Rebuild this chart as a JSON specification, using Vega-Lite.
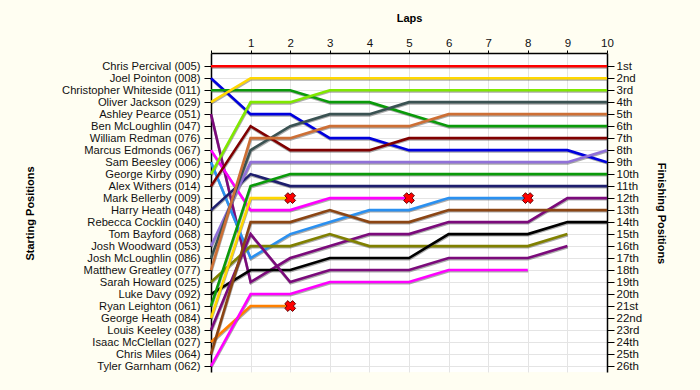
{
"$schema": "https://vega.github.io/schema/vega-lite/v6.json",
"width": 396, "height": 319,
"autosize": "none",
"padding": {"left": 211, "top": 53, "right": 93, "bottom": 18},
"background": "#FFFEF2",
"config": {"view": {"fill": "white", "stroke": null}, "font": "Liberation Sans"},
"datasets": {
"laps": [
{"d":"Chris Percival (005)","l":0,"p":1},{"d":"Chris Percival (005)","l":1,"p":1},{"d":"Chris Percival (005)","l":2,"p":1},{"d":"Chris Percival (005)","l":3,"p":1},{"d":"Chris Percival (005)","l":4,"p":1},{"d":"Chris Percival (005)","l":5,"p":1},{"d":"Chris Percival (005)","l":6,"p":1},{"d":"Chris Percival (005)","l":7,"p":1},{"d":"Chris Percival (005)","l":8,"p":1},{"d":"Chris Percival (005)","l":9,"p":1},{"d":"Chris Percival (005)","l":10,"p":1},
{"d":"Joel Pointon (008)","l":0,"p":2},{"d":"Joel Pointon (008)","l":1,"p":5},{"d":"Joel Pointon (008)","l":2,"p":5},{"d":"Joel Pointon (008)","l":3,"p":7},{"d":"Joel Pointon (008)","l":4,"p":7},{"d":"Joel Pointon (008)","l":5,"p":8},{"d":"Joel Pointon (008)","l":6,"p":8},{"d":"Joel Pointon (008)","l":7,"p":8},{"d":"Joel Pointon (008)","l":8,"p":8},{"d":"Joel Pointon (008)","l":9,"p":8},{"d":"Joel Pointon (008)","l":10,"p":9},
{"d":"Christopher Whiteside (011)","l":0,"p":3},{"d":"Christopher Whiteside (011)","l":1,"p":3},{"d":"Christopher Whiteside (011)","l":2,"p":3},{"d":"Christopher Whiteside (011)","l":3,"p":4},{"d":"Christopher Whiteside (011)","l":4,"p":4},{"d":"Christopher Whiteside (011)","l":5,"p":5},{"d":"Christopher Whiteside (011)","l":6,"p":6},{"d":"Christopher Whiteside (011)","l":7,"p":6},{"d":"Christopher Whiteside (011)","l":8,"p":6},{"d":"Christopher Whiteside (011)","l":9,"p":6},{"d":"Christopher Whiteside (011)","l":10,"p":6},
{"d":"Oliver Jackson (029)","l":0,"p":4},{"d":"Oliver Jackson (029)","l":1,"p":2},{"d":"Oliver Jackson (029)","l":2,"p":2},{"d":"Oliver Jackson (029)","l":3,"p":2},{"d":"Oliver Jackson (029)","l":4,"p":2},{"d":"Oliver Jackson (029)","l":5,"p":2},{"d":"Oliver Jackson (029)","l":6,"p":2},{"d":"Oliver Jackson (029)","l":7,"p":2},{"d":"Oliver Jackson (029)","l":8,"p":2},{"d":"Oliver Jackson (029)","l":9,"p":2},{"d":"Oliver Jackson (029)","l":10,"p":2},
{"d":"Ashley Pearce (051)","l":0,"p":5},{"d":"Ashley Pearce (051)","l":1,"p":19},{"d":"Ashley Pearce (051)","l":2,"p":17},{"d":"Ashley Pearce (051)","l":3,"p":16},{"d":"Ashley Pearce (051)","l":4,"p":15},{"d":"Ashley Pearce (051)","l":5,"p":15},{"d":"Ashley Pearce (051)","l":6,"p":14},{"d":"Ashley Pearce (051)","l":7,"p":14},{"d":"Ashley Pearce (051)","l":8,"p":14},{"d":"Ashley Pearce (051)","l":9,"p":12},{"d":"Ashley Pearce (051)","l":10,"p":12},
{"d":"Marcus Edmonds (067)","l":0,"p":8},{"d":"Marcus Edmonds (067)","l":1,"p":13},{"d":"Marcus Edmonds (067)","l":2,"p":13},{"d":"Marcus Edmonds (067)","l":3,"p":12},{"d":"Marcus Edmonds (067)","l":4,"p":12},{"d":"Marcus Edmonds (067)","l":5,"p":12},
{"d":"Sam Beesley (006)","l":0,"p":9},{"d":"Sam Beesley (006)","l":1,"p":17},{"d":"Sam Beesley (006)","l":2,"p":15},{"d":"Sam Beesley (006)","l":3,"p":14},{"d":"Sam Beesley (006)","l":4,"p":13},{"d":"Sam Beesley (006)","l":5,"p":13},{"d":"Sam Beesley (006)","l":6,"p":12},{"d":"Sam Beesley (006)","l":7,"p":12},{"d":"Sam Beesley (006)","l":8,"p":12},
{"d":"George Kirby (090)","l":0,"p":10},{"d":"George Kirby (090)","l":1,"p":4},{"d":"George Kirby (090)","l":2,"p":4},{"d":"George Kirby (090)","l":3,"p":3},{"d":"George Kirby (090)","l":4,"p":3},{"d":"George Kirby (090)","l":5,"p":3},{"d":"George Kirby (090)","l":6,"p":3},{"d":"George Kirby (090)","l":7,"p":3},{"d":"George Kirby (090)","l":8,"p":3},{"d":"George Kirby (090)","l":9,"p":3},{"d":"George Kirby (090)","l":10,"p":3},
{"d":"Alex Withers (014)","l":0,"p":11},{"d":"Alex Withers (014)","l":1,"p":6},{"d":"Alex Withers (014)","l":2,"p":8},{"d":"Alex Withers (014)","l":3,"p":8},{"d":"Alex Withers (014)","l":4,"p":8},{"d":"Alex Withers (014)","l":5,"p":7},{"d":"Alex Withers (014)","l":6,"p":7},{"d":"Alex Withers (014)","l":7,"p":7},{"d":"Alex Withers (014)","l":8,"p":7},{"d":"Alex Withers (014)","l":9,"p":7},{"d":"Alex Withers (014)","l":10,"p":7},
{"d":"Harry Heath (048)","l":0,"p":13},{"d":"Harry Heath (048)","l":1,"p":10},{"d":"Harry Heath (048)","l":2,"p":11},{"d":"Harry Heath (048)","l":3,"p":11},{"d":"Harry Heath (048)","l":4,"p":11},{"d":"Harry Heath (048)","l":5,"p":11},{"d":"Harry Heath (048)","l":6,"p":11},{"d":"Harry Heath (048)","l":7,"p":11},{"d":"Harry Heath (048)","l":8,"p":11},{"d":"Harry Heath (048)","l":9,"p":11},{"d":"Harry Heath (048)","l":10,"p":11},
{"d":"Josh Woodward (053)","l":0,"p":16},{"d":"Josh Woodward (053)","l":1,"p":9},{"d":"Josh Woodward (053)","l":2,"p":9},{"d":"Josh Woodward (053)","l":3,"p":9},{"d":"Josh Woodward (053)","l":4,"p":9},{"d":"Josh Woodward (053)","l":5,"p":9},{"d":"Josh Woodward (053)","l":6,"p":9},{"d":"Josh Woodward (053)","l":7,"p":9},{"d":"Josh Woodward (053)","l":8,"p":9},{"d":"Josh Woodward (053)","l":9,"p":9},{"d":"Josh Woodward (053)","l":10,"p":8},
{"d":"Josh McLoughlin (086)","l":0,"p":17},{"d":"Josh McLoughlin (086)","l":1,"p":8},{"d":"Josh McLoughlin (086)","l":2,"p":6},{"d":"Josh McLoughlin (086)","l":3,"p":5},{"d":"Josh McLoughlin (086)","l":4,"p":5},{"d":"Josh McLoughlin (086)","l":5,"p":4},{"d":"Josh McLoughlin (086)","l":6,"p":4},{"d":"Josh McLoughlin (086)","l":7,"p":4},{"d":"Josh McLoughlin (086)","l":8,"p":4},{"d":"Josh McLoughlin (086)","l":9,"p":4},{"d":"Josh McLoughlin (086)","l":10,"p":4},
{"d":"Matthew Greatley (077)","l":0,"p":18},{"d":"Matthew Greatley (077)","l":1,"p":7},{"d":"Matthew Greatley (077)","l":2,"p":7},{"d":"Matthew Greatley (077)","l":3,"p":6},{"d":"Matthew Greatley (077)","l":4,"p":6},{"d":"Matthew Greatley (077)","l":5,"p":6},{"d":"Matthew Greatley (077)","l":6,"p":5},{"d":"Matthew Greatley (077)","l":7,"p":5},{"d":"Matthew Greatley (077)","l":8,"p":5},{"d":"Matthew Greatley (077)","l":9,"p":5},{"d":"Matthew Greatley (077)","l":10,"p":5},
{"d":"Sarah Howard (025)","l":0,"p":19},{"d":"Sarah Howard (025)","l":1,"p":16},{"d":"Sarah Howard (025)","l":2,"p":16},{"d":"Sarah Howard (025)","l":3,"p":15},{"d":"Sarah Howard (025)","l":4,"p":16},{"d":"Sarah Howard (025)","l":5,"p":16},{"d":"Sarah Howard (025)","l":6,"p":16},{"d":"Sarah Howard (025)","l":7,"p":16},{"d":"Sarah Howard (025)","l":8,"p":16},{"d":"Sarah Howard (025)","l":9,"p":15},
{"d":"Luke Davy (092)","l":0,"p":20},{"d":"Luke Davy (092)","l":1,"p":18},{"d":"Luke Davy (092)","l":2,"p":18},{"d":"Luke Davy (092)","l":3,"p":17},{"d":"Luke Davy (092)","l":4,"p":17},{"d":"Luke Davy (092)","l":5,"p":17},{"d":"Luke Davy (092)","l":6,"p":15},{"d":"Luke Davy (092)","l":7,"p":15},{"d":"Luke Davy (092)","l":8,"p":15},{"d":"Luke Davy (092)","l":9,"p":14},{"d":"Luke Davy (092)","l":10,"p":14},
{"d":"Ryan Leighton (061)","l":0,"p":21},{"d":"Ryan Leighton (061)","l":1,"p":11},{"d":"Ryan Leighton (061)","l":2,"p":10},{"d":"Ryan Leighton (061)","l":3,"p":10},{"d":"Ryan Leighton (061)","l":4,"p":10},{"d":"Ryan Leighton (061)","l":5,"p":10},{"d":"Ryan Leighton (061)","l":6,"p":10},{"d":"Ryan Leighton (061)","l":7,"p":10},{"d":"Ryan Leighton (061)","l":8,"p":10},{"d":"Ryan Leighton (061)","l":9,"p":10},{"d":"Ryan Leighton (061)","l":10,"p":10},
{"d":"George Heath (084)","l":0,"p":22},{"d":"George Heath (084)","l":1,"p":12},{"d":"George Heath (084)","l":2,"p":12},
{"d":"Louis Keeley (038)","l":0,"p":23},{"d":"Louis Keeley (038)","l":1,"p":15},{"d":"Louis Keeley (038)","l":2,"p":19},{"d":"Louis Keeley (038)","l":3,"p":18},{"d":"Louis Keeley (038)","l":4,"p":18},{"d":"Louis Keeley (038)","l":5,"p":18},{"d":"Louis Keeley (038)","l":6,"p":17},{"d":"Louis Keeley (038)","l":7,"p":17},{"d":"Louis Keeley (038)","l":8,"p":17},{"d":"Louis Keeley (038)","l":9,"p":16},
{"d":"Isaac McClellan (027)","l":0,"p":24},{"d":"Isaac McClellan (027)","l":1,"p":21},{"d":"Isaac McClellan (027)","l":2,"p":21},
{"d":"Chris Miles (064)","l":0,"p":25},{"d":"Chris Miles (064)","l":1,"p":14},{"d":"Chris Miles (064)","l":2,"p":14},{"d":"Chris Miles (064)","l":3,"p":13},{"d":"Chris Miles (064)","l":4,"p":14},{"d":"Chris Miles (064)","l":5,"p":14},{"d":"Chris Miles (064)","l":6,"p":13},{"d":"Chris Miles (064)","l":7,"p":13},{"d":"Chris Miles (064)","l":8,"p":13},{"d":"Chris Miles (064)","l":9,"p":13},{"d":"Chris Miles (064)","l":10,"p":13},
{"d":"Tyler Garnham (062)","l":0,"p":26},{"d":"Tyler Garnham (062)","l":1,"p":20},{"d":"Tyler Garnham (062)","l":2,"p":20},{"d":"Tyler Garnham (062)","l":3,"p":19},{"d":"Tyler Garnham (062)","l":4,"p":19},{"d":"Tyler Garnham (062)","l":5,"p":19},{"d":"Tyler Garnham (062)","l":6,"p":18},{"d":"Tyler Garnham (062)","l":7,"p":18},{"d":"Tyler Garnham (062)","l":8,"p":18}
],
"retired": [
{"d":"George Heath (084)","l":2,"p":12},
{"d":"Isaac McClellan (027)","l":2,"p":21},
{"d":"Marcus Edmonds (067)","l":5,"p":12},
{"d":"Sam Beesley (006)","l":8,"p":12}
]
},
"layer": [
{
"data": {"name": "laps"},
"mark": {"type": "line", "strokeWidth": 2.6, "color": "#444444", "opacity": 0.45, "yOffset": 1.2, "xOffset": 0.4},
"encoding": {
"x": {"field": "l", "type": "quantitative", "scale": {"domain": [0, 10], "nice": false, "zero": false}, "axis": null},
"y": {"field": "p", "type": "quantitative", "scale": {"domain": [-0.1, 26.5], "reverse": true, "nice": false, "zero": false}, "axis": null},
"detail": {"field": "d"},
"order": {"field": "l"}
}
},
{
"data": {"name": "laps"},
"mark": {"type": "line", "strokeWidth": 2.6},
"encoding": {
"x": {"field": "l", "type": "quantitative", "axis": {"orient": "top", "values": [0,1,2,3,4,5,6,7,8,9,10], "labelExpr": "datum.value == 0 ? '' : datum.label", "title": "Laps", "titleFontSize": 11, "titleFontWeight": "bold", "titleColor": "#000000", "titleY": -35, "titleBaseline": "middle", "labelFontSize": 11.5, "labelColor": "#111111", "labelPadding": 2, "tickSize": 3, "tickColor": "#000000", "domainColor": "#000000", "domainWidth": 1.5, "grid": true, "gridColor": "#E4E4E4", "labelFlush": false}},
"y": {"field": "p", "type": "quantitative", "axis": {"orient": "left", "values": [1,2,3,4,5,6,7,8,9,10,11,12,13,14,15,16,17,18,19,20,21,22,23,24,25,26], "labelExpr": "['', 'Chris Percival (005)', 'Joel Pointon (008)', 'Christopher Whiteside (011)', 'Oliver Jackson (029)', 'Ashley Pearce (051)', 'Ben McLoughlin (047)', 'William Redman (076)', 'Marcus Edmonds (067)', 'Sam Beesley (006)', 'George Kirby (090)', 'Alex Withers (014)', 'Mark Bellerby (009)', 'Harry Heath (048)', 'Rebecca Cocklin (040)', 'Tom Bayford (068)', 'Josh Woodward (053)', 'Josh McLoughlin (086)', 'Matthew Greatley (077)', 'Sarah Howard (025)', 'Luke Davy (092)', 'Ryan Leighton (061)', 'George Heath (084)', 'Louis Keeley (038)', 'Isaac McClellan (027)', 'Chris Miles (064)', 'Tyler Garnham (062)'][datum.value]", "labelFontSize": 11.2, "labelColor": "#111111", "labelPadding": 4, "tickSize": 7, "tickColor": "#000000", "domainColor": "#000000", "domainWidth": 1.5, "grid": true, "gridColor": "#E4E4E4", "labelFlush": false, "labelOverlap": false, "title": "Starting Positions", "titleFontSize": 11, "titleFontWeight": "bold", "titleColor": "#000000", "titleAngle": -90, "titleX": -181, "titleY": 160, "titleAlign": "center", "titleBaseline": "middle"}},
"color": {"field": "d", "type": "nominal", "legend": null, "scale": {
"domain": ["Chris Percival (005)", "Joel Pointon (008)", "Christopher Whiteside (011)", "Oliver Jackson (029)", "Ashley Pearce (051)", "Marcus Edmonds (067)", "Sam Beesley (006)", "George Kirby (090)", "Alex Withers (014)", "Harry Heath (048)", "Josh Woodward (053)", "Josh McLoughlin (086)", "Matthew Greatley (077)", "Sarah Howard (025)", "Luke Davy (092)", "Ryan Leighton (061)", "George Heath (084)", "Louis Keeley (038)", "Isaac McClellan (027)", "Chris Miles (064)", "Tyler Garnham (062)"],
"range": ["#FF0000", "#0000DD", "#0A9A0A", "#FFD700", "#7B0A7B", "#FF00FF", "#2A90F0", "#80E800", "#800000", "#1E1E6E", "#9070D8", "#3A5252", "#CD6F35", "#808000", "#000000", "#0A9A0A", "#FFD700", "#7B0A7B", "#FF8000", "#8B4513", "#FF00FF"]}},
"detail": {"field": "d"},
"order": {"field": "l"}
}
},
{
"data": {"name": "retired"},
"mark": {"type": "point", "shape": "cross", "angle": 45, "size": 120, "filled": true, "fill": "#FF0000", "stroke": "#5A0000", "strokeWidth": 0.9, "opacity": 1},
"encoding": {
"x": {"field": "l", "type": "quantitative", "axis": null},
"y": {"field": "p", "type": "quantitative", "axis": {"orient": "right", "values": [1,2,3,4,5,6,7,8,9,10,11,12,13,14,15,16,17,18,19,20,21,22,23,24,25,26], "labelExpr": "['', '1st', '2nd', '3rd', '4th', '5th', '6th', '7th', '8th', '9th', '10th', '11th', '12th', '13th', '14th', '15th', '16th', '17th', '18th', '19th', '20th', '21st', '22nd', '23rd', '24th', '25th', '26th'][datum.value]", "labelFontSize": 11.5, "labelColor": "#111111", "labelPadding": 2, "tickSize": 7, "tickColor": "#000000", "domainColor": "#000000", "domainWidth": 1.5, "grid": false, "labelFlush": false, "labelOverlap": false, "title": "Finishing Positions", "titleFontSize": 11, "titleFontWeight": "bold", "titleColor": "#000000", "titleAngle": 90, "titleX": 53, "titleY": 160, "titleAlign": "center", "titleBaseline": "middle"}}
}
}
],
"resolve": {"axis": {"x": "independent", "y": "independent"}}
}
